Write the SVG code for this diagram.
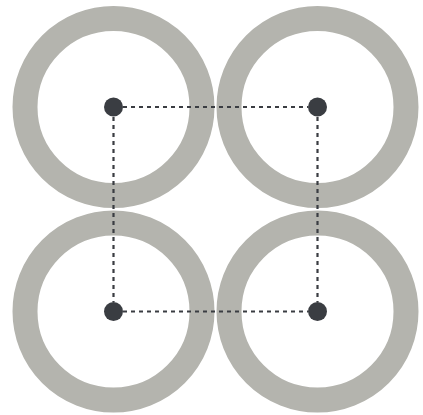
<svg xmlns="http://www.w3.org/2000/svg" width="423" height="415" viewBox="0 0 423 415">
<style>
.ring{fill:none;stroke:#b4b4ae;stroke-width:25}
.dot{fill:#3a3d42}
.link{stroke:#3a3d42;stroke-width:2.2;stroke-dasharray:4 4;fill:none}
</style>
<rect width="423" height="415" fill="#ffffff"/>
<g id="ring-tl"><circle class="ring" cx="113.5" cy="107" r="88.5"/></g>
<g id="ring-tr"><circle class="ring" cx="317.5" cy="107" r="88.5"/></g>
<g id="ring-bl"><circle class="ring" cx="113.5" cy="311.5" r="88.5"/></g>
<g id="ring-br"><circle class="ring" cx="317.5" cy="311.5" r="88.5"/></g>
<g id="connectors">
<path class="link" d="M123 107 H308"/>
<path class="link" d="M123 311.5 H308"/>
<path class="link" d="M113.5 117 V302"/>
<path class="link" d="M317.5 117 V302"/>
</g>
<g id="node-tl"><circle class="dot" cx="113.5" cy="107" r="9.5"/></g>
<g id="node-tr"><circle class="dot" cx="317.5" cy="107" r="9.5"/></g>
<g id="node-bl"><circle class="dot" cx="113.5" cy="311.5" r="9.5"/></g>
<g id="node-br"><circle class="dot" cx="317.5" cy="311.5" r="9.5"/></g>
</svg>
